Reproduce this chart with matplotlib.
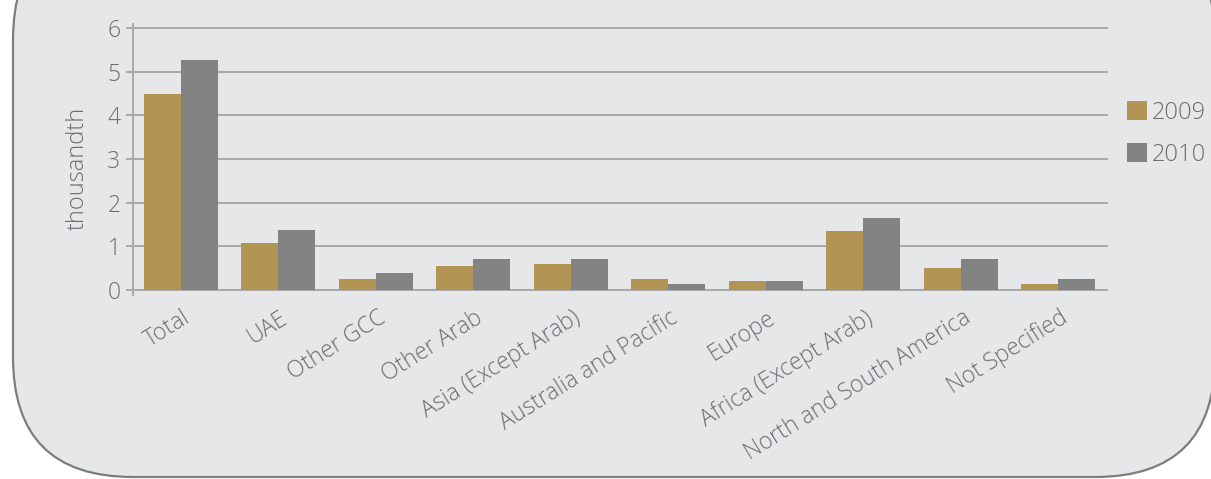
import matplotlib
matplotlib.use("Agg")
import matplotlib.pyplot as plt
from matplotlib.patches import FancyBboxPatch
import numpy as np

categories = ["Total", "UAE", "Other GCC", "Other Arab", "Asia (Except Arab)",
              "Australia and Pacific", "Europe", "Africa (Except Arab)",
              "North and South America", "Not Specified"]
values_2009 = [4.49, 1.07, 0.25, 0.55, 0.60, 0.25, 0.20, 1.36, 0.50, 0.13]
values_2010 = [5.26, 1.38, 0.40, 0.72, 0.72, 0.13, 0.20, 1.64, 0.70, 0.25]
series_labels = ["2009", "2010"]
y_ticks = [0, 1, 2, 3, 4, 5, 6]

W, H = 1211, 479
fig = plt.figure(figsize=(W / 100, H / 100), dpi=100)
fig.patch.set_facecolor("white")

FONT = {"family": "Open Sans", "weight": "light"}

# rounded background panel
bg = fig.add_axes([0, 0, 1, 1])
bg.set_xlim(0, W)
bg.set_ylim(H, 0)
bg.axis("off")
r = 120
panel = FancyBboxPatch((13 + r, -80 + r), 1215 - 13 - 2 * r, 477 + 80 - 2 * r,
                       boxstyle="round,pad=%d" % r, facecolor="#e6e7e8",
                       edgecolor="#7d7d7d", linewidth=1.6)
bg.add_patch(panel)

text_color = "#6d6e71"
gold = "#b29555"
grey = "#838383"
grid_c = "#a9a9ab"

ylo, yhi = -0.12, 6.1
ppu = 43.7
top_px = 28 - (yhi - 6) * ppu
bot_px = 290 + (0 - ylo) * ppu
left_px, right_px = 133, 1108
ax = fig.add_axes([left_px / W, 1 - bot_px / H, (right_px - left_px) / W, (bot_px - top_px) / H])
ax.set_facecolor("none")
ax.set_ylim(ylo, yhi)
ax.set_xlim(-0.49, 9.51)

x = np.arange(len(categories))
bw = 0.38
ax.bar(x - bw / 2, values_2009, bw, color=gold, label=series_labels[0], zorder=3)
ax.bar(x + bw / 2, values_2010, bw, color=grey, label=series_labels[1], zorder=3)

ax.set_yticks(y_ticks)
ax.set_yticklabels([str(t) for t in y_ticks], fontsize=16.5, color=text_color, **FONT)
for t in y_ticks:
    ax.axhline(t, color=grid_c, linewidth=1.4, zorder=1)

for s in ["top", "right", "bottom"]:
    ax.spines[s].set_visible(False)
ax.spines["left"].set_color(grid_c)
ax.spines["left"].set_linewidth(1.4)
ax.tick_params(axis="y", length=5, width=1.4, color=grid_c, pad=4)

ax.set_xticks(x + 0.08)
ax.set_xticklabels(categories, rotation=32, ha="right", va="center", rotation_mode="anchor",
                   fontsize=16.5, color=text_color, **FONT)
ax.tick_params(axis="x", length=0, pad=15)

fig.text(78 / W, 1 - 168 / H, "thousandth", rotation=90, ha="center", va="center",
         fontsize=17, color=text_color, **FONT)

leg = ax.legend(loc="upper left", bbox_to_anchor=(1127 / W, 1 - 101 / H),
                bbox_transform=fig.transFigure, frameon=False, borderpad=0, borderaxespad=0,
                handlelength=0.85, handleheight=0.85, handletextpad=0.2,
                labelspacing=0.75, prop={"family": "Open Sans", "weight": "light", "size": 17})
for t in leg.get_texts():
    t.set_color(text_color)

fig.savefig("out.png", dpi=100, facecolor=fig.get_facecolor())
